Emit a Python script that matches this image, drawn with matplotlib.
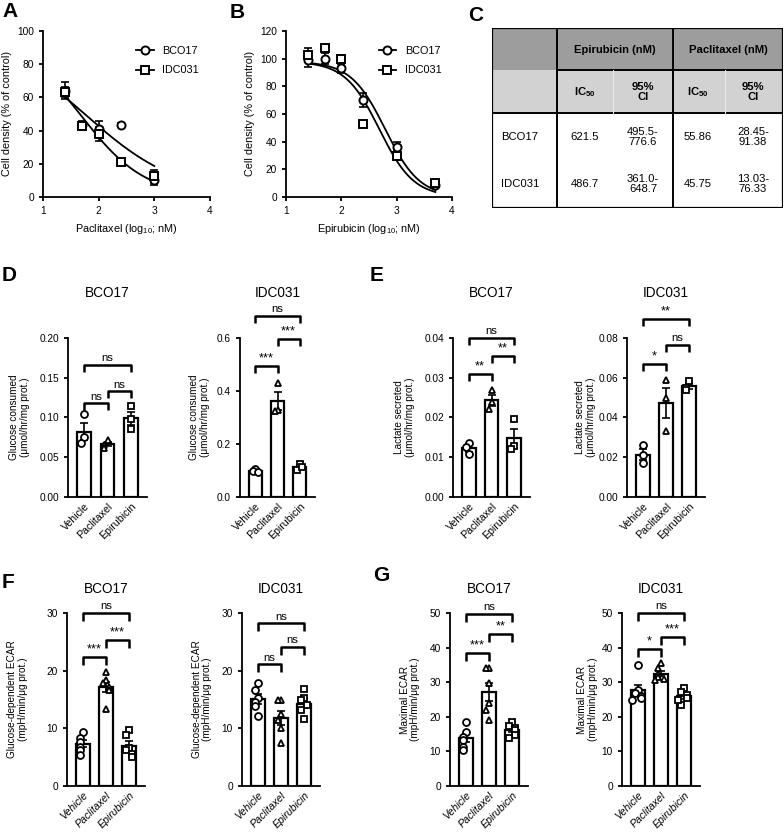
import numpy as np
import matplotlib
matplotlib.use('Agg')
import matplotlib.pyplot as plt
from matplotlib.lines import Line2D
from matplotlib.patches import Rectangle

plt.rcParams['font.family'] = ['Liberation Sans', 'DejaVu Sans']
plt.rcParams['mathtext.fontset'] = 'custom'
plt.rcParams['mathtext.rm'] = 'Liberation Sans'
plt.rcParams['mathtext.it'] = 'Liberation Sans:italic'
plt.rcParams['mathtext.bf'] = 'Liberation Sans:bold'
plt.rcParams['axes.linewidth'] = 1.3
plt.rcParams['xtick.major.width'] = 1.3
plt.rcParams['ytick.major.width'] = 1.3
plt.rcParams['xtick.major.size'] = 3
plt.rcParams['ytick.major.size'] = 3
plt.rcParams['xtick.labelsize'] = 7.3
plt.rcParams['ytick.labelsize'] = 7.3

# ---- A: paclitaxel dose response
pac_logconc = [1.4, 1.7, 2.0, 2.4, 3.0]
pac_bco17 = [64, 43.5, 41, 43.5, 10]
pac_bco17_err = [5, 2, 5, 1, 3]
pac_idc031 = [63, 42.5, 38, 21, 12.5]
pac_idc031_err = [3, 2, 4, 1, 4]
pac_ic50 = [55.86, 45.75]
pac_hill = [0.51, 0.74]

# ---- B: epirubicin dose response
epi_logconc = [1.4, 1.7, 2.0, 2.4, 3.0, 3.7]
epi_bco17 = [99, 100, 93, 70, 36, 9]
epi_bco17_err = [5, 4, 3, 5, 4, 2]
epi_idc031 = [103, 108, 100, 53, 30, 10]
epi_idc031_err = [5, 2, 2, 1, 3, 2]
epi_ic50 = [621.5, 486.7]
epi_hill = [1.4, 1.4]
epi_top = 98

# ---- C: IC50 table
table_lines = ['BCO17', 'IDC031']
table_epi_ic50 = ['621.5', '486.7']
table_epi_ci = ['495.5-\n776.6', '361.0-\n648.7']
table_pac_ic50 = ['55.86', '45.75']
table_pac_ci = ['28.45-\n91.38', '13.03-\n76.33']

# ---- D-G: bar charts
groups = ['Vehicle', 'Paclitaxel', 'Epirubicin']

glc_bco17 = [[0.104, 0.075, 0.068], [0.072, 0.066, 0.062], [0.114, 0.098, 0.085]]
glc_idc031 = [[0.105, 0.098, 0.094], [0.43, 0.33, 0.325], [0.125, 0.100, 0.115]]
lac_bco17 = [[0.0135, 0.0125, 0.0107], [0.0268, 0.0240, 0.0222], [0.0195, 0.0128, 0.0120]]
lac_idc031 = [[0.026, 0.021, 0.017], [0.059, 0.050, 0.033], [0.0585, 0.055, 0.054]]
gecar_bco17 = [[9.4, 8.3, 7.7, 6.8, 6.2, 5.4],
               [19.8, 18.4, 17.8, 17.2, 16.6, 13.3],
               [9.7, 8.8, 6.6, 6.2, 5.6, 5.0]]
gecar_idc031 = [[17.9, 16.6, 15.2, 14.6, 13.8, 12.1],
                [14.9, 14.9, 12.5, 11.4, 10.0, 7.4],
                [16.9, 15.2, 14.9, 14.0, 13.2, 11.6]]
mecar_bco17 = [[18.6, 15.7, 14.3, 13.3, 11.4, 10.4],
               [34.1, 34.1, 29.8, 24.0, 22.0, 19.1],
               [18.6, 17.2, 16.8, 16.2, 14.8, 13.8]]
mecar_idc031 = [[35.0, 27.8, 26.9, 25.9, 25.4, 24.8],
                [35.5, 34.0, 32.5, 31.5, 31.0, 30.5],
                [28.3, 27.3, 26.4, 25.4, 23.5, 25.0]]

sig_glc_bco17 = [(0, 1, 0.118, 'ns'), (1, 2, 0.133, 'ns'), (0, 2, 0.166, 'ns')]
sig_glc_idc031 = [(0, 1, 0.494, '***'), (1, 2, 0.596, '***'), (0, 2, 0.683, 'ns')]
sig_lac_bco17 = [(0, 1, 0.031, '**'), (1, 2, 0.0355, '**'), (0, 2, 0.040, 'ns')]
sig_lac_idc031 = [(0, 1, 0.067, '*'), (1, 2, 0.0765, 'ns'), (0, 2, 0.0895, '**')]
sig_gecar_bco17 = [(0, 1, 22.4, '***'), (1, 2, 25.3, '***'), (0, 2, 30.0, 'ns')]
sig_gecar_idc031 = [(0, 1, 21.1, 'ns'), (1, 2, 24.1, 'ns'), (0, 2, 28.2, 'ns')]
sig_mecar_bco17 = [(0, 1, 38.4, '***'), (1, 2, 43.9, '**'), (0, 2, 49.7, 'ns')]
sig_mecar_idc031 = [(0, 1, 39.6, '*'), (1, 2, 43.0, '***'), (0, 2, 50.0, 'ns')]

W, H = 784, 834


def box(l, r, t, b):
    return [l / W, 1 - b / H, (r - l) / W, (b - t) / H]


def style(ax):
    ax.spines['top'].set_visible(False)
    ax.spines['right'].set_visible(False)


def logistic(x, ic50, hill, top=100.0):
    return top / (1 + 10 ** ((x - np.log10(ic50)) * hill))


def dose_panel(ax, xs, ys1, e1, ys2, e2, ic50s, hills, top, xlabel, ylim, yticks):
    style(ax)
    for ys, es, m in [(ys1, e1, 'o'), (ys2, e2, 's')]:
        ax.errorbar(xs, ys, yerr=es, fmt='none', ecolor='black', elinewidth=1.2,
                    capsize=3, capthick=1.2, zorder=2)
        ax.plot(xs, ys, m, ms=5.8, mfc='white', mec='black', mew=1.4, zorder=3)
    xx = np.linspace(xs[0], xs[-1], 200)
    for ic50, h in zip(ic50s, hills):
        ax.plot(xx, logistic(xx, ic50, h, top), color='black', lw=1.3, zorder=1)
    ax.set_xlim(1, 4)
    ax.set_xticks([1, 2, 3, 4])
    ax.set_ylim(*ylim)
    ax.set_yticks(yticks)
    ax.set_xlabel(xlabel, fontsize=7.8)
    ax.set_ylabel('Cell density (% of control)', fontsize=7.8)
    hs = [Line2D([], [], color='black', lw=1.3, marker=m, ms=5.8, mfc='white',
                 mec='black', mew=1.4) for m in ['o', 's']]
    ax.legend(hs, ['BCO17', 'IDC031'], loc='upper left', bbox_to_anchor=(0.5, 0.97),
              frameon=False, fontsize=7.8, handlelength=1.6, labelspacing=0.9)


def spread(vals, tol):
    offs, placed = [], []
    for v in vals:
        near = sum(abs(v - p) < tol for p in placed)
        offs.append([0, -1, 1, -2, 2, -3, 3][near] * 0.13)
        placed.append(v)
    return offs


def bar_panel(ax, data, sigs, ymax, yticks, fmt, title, title_y, ylabel, lab_x,
              italic=False):
    style(ax)
    means = [np.mean(d) for d in data]
    sems = [np.std(d, ddof=1) / np.sqrt(len(d)) for d in data]
    x = np.arange(len(groups))
    ax.bar(x, means, width=0.6, color='white', edgecolor='black', lw=1.6, zorder=1)
    ax.errorbar(x, means, yerr=sems, fmt='none', ecolor='black', elinewidth=1.2,
                capsize=3, capthick=1.2, zorder=2)
    for i, (d, m) in enumerate(zip(data, ['o', '^', 's'])):
        offs = spread(d, 0.045 * ymax)
        ax.plot(i + np.array(offs), d, m, ms=5.0, mfc='white', mec='black',
                mew=1.3, zorder=3, clip_on=False)
    ax.set_xlim(-0.7, 2.7)
    ax.set_ylim(0, ymax)
    ax.set_yticks(yticks)
    ax.set_yticklabels([fmt.format(t) for t in yticks])
    ax.set_xticks(x)
    ax.set_xticklabels(groups, rotation=45, ha='right', rotation_mode='anchor',
                       fontsize=7.6, style='italic' if italic else 'normal')
    ax.tick_params(axis='x', length=0, pad=3)
    ax.set_ylabel(ylabel, fontsize=7.2, linespacing=1.1)
    ax.yaxis.set_label_coords(lab_x, 0.5)
    drop = 0.045 * ymax
    for i, j, y, lab in sigs:
        ax.plot([i, i, j, j], [y - drop, y, y, y - drop], color='black', lw=1.8,
                clip_on=False, solid_capstyle='butt')
        ax.text((i + j) / 2, y + 0.01 * ymax, lab, ha='center', va='bottom',
                fontsize=8.2 if lab == 'ns' else 9.2, clip_on=False)
    ax.text(0.5, title_y, title, transform=ax.transAxes, ha='center', va='center',
            fontsize=9.8)


fig = plt.figure(figsize=(W / 100, H / 100), dpi=100)

# A / B
axA = fig.add_axes(box(43, 210, 31, 197))
dose_panel(axA, pac_logconc, pac_bco17, pac_bco17_err, pac_idc031, pac_idc031_err,
           pac_ic50, pac_hill, 100, r'Paclitaxel (log$_{10}$; nM)', (0, 100),
           [0, 20, 40, 60, 80, 100])
axB = fig.add_axes(box(286, 452, 31, 197))
dose_panel(axB, epi_logconc, epi_bco17, epi_bco17_err, epi_idc031, epi_idc031_err,
           epi_ic50, epi_hill, epi_top, r'Epirubicin (log$_{10}$; nM)', (0, 120),
           [0, 20, 40, 60, 80, 100, 120])

# C table
tab = fig.add_axes(box(492, 783, 28, 208))
tab.set_xlim(492, 783)
tab.set_ylim(208, 28)
tab.axis('off')
tab.add_patch(Rectangle((492, 28), 291, 42, facecolor='#9d9d9d', edgecolor='none'))
tab.add_patch(Rectangle((492, 70), 291, 43, facecolor='#d2d2d2', edgecolor='none'))
tab.add_patch(Rectangle((492, 28), 291, 180, facecolor='none', edgecolor='black', lw=1.6))
for xv in [557, 673]:
    tab.plot([xv, xv], [28, 208], color='black', lw=1.4)
tab.plot([557, 783], [70, 70], color='black', lw=1.4)
tab.plot([492, 783], [113, 113], color='black', lw=1.4)
for xv in [613, 725]:
    tab.plot([xv, xv], [70, 113], color='#e6e6e6', lw=0.8)
fs = 8.1
tab.text(615, 50, 'Epirubicin (nM)', ha='center', va='center', fontsize=fs, weight='bold')
tab.text(728, 50, 'Paclitaxel (nM)', ha='center', va='center', fontsize=fs, weight='bold')
for xc in [585, 698]:
    tab.text(xc, 92, r'$\mathbf{IC_{50}}$', ha='center', va='center', fontsize=fs)
for xc in [643, 753]:
    tab.text(xc, 92, '95%\nCI', ha='center', va='center', fontsize=fs, weight='bold',
             linespacing=1.0)
for k, yc in enumerate([137, 184]):
    tab.text(501, yc, table_lines[k], ha='left', va='center', fontsize=fs)
    tab.text(585, yc, table_epi_ic50[k], ha='center', va='center', fontsize=fs)
    tab.text(643, yc, table_epi_ci[k], ha='center', va='center', fontsize=fs, linespacing=1.0)
    tab.text(698, yc, table_pac_ic50[k], ha='center', va='center', fontsize=fs)
    tab.text(753, yc, table_pac_ci[k], ha='center', va='center', fontsize=fs, linespacing=1.0)

# D
glc_lab = 'Glucose consumed\n(\u03bcmol/hr/mg prot.)'
lac_lab = 'Lactate secreted\n(\u03bcmol/hr/mg prot.)'
ax = fig.add_axes(box(68, 147, 338, 497))
bar_panel(ax, glc_bco17, sig_glc_bco17, 0.20, [0, 0.05, 0.10, 0.15, 0.20], '{:.2f}',
          'BCO17', 1.283, glc_lab, -0.48)
ax = fig.add_axes(box(240, 315, 338, 497))
bar_panel(ax, glc_idc031, sig_glc_idc031, 0.6, [0, 0.2, 0.4, 0.6], '{:.1f}',
          'IDC031', 1.283, glc_lab, -0.40)
# E
ax = fig.add_axes(box(453, 530, 338, 497))
bar_panel(ax, lac_bco17, sig_lac_bco17, 0.04, [0, 0.01, 0.02, 0.03, 0.04], '{:.2f}',
          'BCO17', 1.283, lac_lab, -0.49)
ax = fig.add_axes(box(627, 705, 338, 497))
bar_panel(ax, lac_idc031, sig_lac_idc031, 0.08, [0, 0.02, 0.04, 0.06, 0.08], '{:.2f}',
          'IDC031', 1.283, lac_lab, -0.40)
# F
ge_lab = 'Glucose-dependent ECAR\n(mpH/min/\u03bcg prot.)'
me_lab = 'Maximal ECAR\n(mpH/min/\u03bcg prot.)'
ax = fig.add_axes(box(67, 145, 613, 786))
bar_panel(ax, gecar_bco17, sig_gecar_bco17, 30, [0, 10, 20, 30], '{:.0f}',
          'BCO17', 1.14, ge_lab, -0.50, italic=True)
ax = fig.add_axes(box(242, 320, 613, 786))
bar_panel(ax, gecar_idc031, sig_gecar_idc031, 30, [0, 10, 20, 30], '{:.0f}',
          'IDC031', 1.14, ge_lab, -0.38, italic=True)
# G
ax = fig.add_axes(box(450, 528, 613, 786))
bar_panel(ax, mecar_bco17, sig_mecar_bco17, 50, [0, 10, 20, 30, 40, 50], '{:.0f}',
          'BCO17', 1.14, me_lab, -0.38, italic=True)
ax = fig.add_axes(box(622, 700, 613, 786))
bar_panel(ax, mecar_idc031, sig_mecar_idc031, 50, [0, 10, 20, 30, 40, 50], '{:.0f}',
          'IDC031', 1.14, me_lab, -0.31, italic=True)

# panel letters
for lab, px, py in [('A', 2, 2), ('B', 230, 3), ('C', 468, 6), ('D', 2, 266),
                    ('E', 370, 266), ('F', 2, 573), ('G', 373, 566)]:
    fig.text(px / W, 1 - py / H, lab, ha='left', va='top', fontsize=15, weight='bold')

fig.savefig('out.png', dpi=100)
